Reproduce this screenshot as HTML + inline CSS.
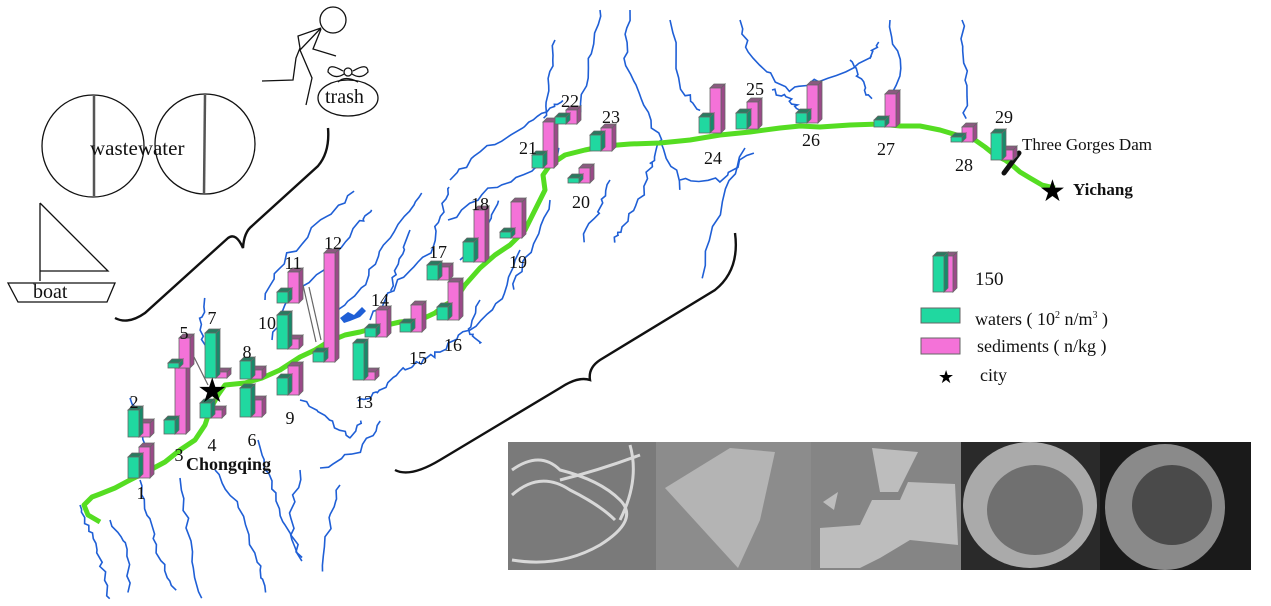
<!DOCTYPE html>
<html><head><meta charset="utf-8"><style>
html,body{margin:0;padding:0;background:#fff;}
svg{display:block;}
text{font-family:"Liberation Serif",serif;fill:#111;}
</style></head><body>
<svg id="s" width="1271" height="606" viewBox="0 0 1271 606" xmlns="http://www.w3.org/2000/svg">
<g id="blue" fill="none" stroke="#1f5fd6" stroke-width="1.6"></g>
<path d="M340,318 l8,-6 l6,3 l8,-8 l4,4 l-6,6 l-10,4 l-6,2 z" fill="#1f5fd6"/>
<!-- green river -->
<path d="M100,522 L88,515 L84,505 L92,497 L100,494 L115,488 L130,480 L150,470 L165,462 L180,450 L195,440 L205,425 L210,410 L218,395 L225,385 L245,383 L262,378 L280,370 L300,357 L315,350 L328,342 L345,335 L360,332 L378,327 L400,322 L420,320 L435,313 L445,305 L455,300 L465,285 L480,268 L495,255 L510,245 L525,230 L535,210 L545,190 L543,175 L550,165 L565,155 L585,150 L605,146 L630,144 L660,143 L690,140 L720,135 L750,132 L780,128 L800,126 L820,127 L850,125 L880,124 L900,126 L920,126 L940,130 L960,136 L975,140 L985,147 L995,155 L1005,160 L1012,165 L1020,172 L1030,178 L1042,185 L1055,188" fill="none" stroke="#55dd22" stroke-width="5" stroke-linejoin="round"/>
<!-- dam -->
<line x1="1004" y1="173" x2="1019" y2="153" stroke="#111" stroke-width="5" stroke-linecap="round"/>
<g id="bars"></g>
<!-- gray connectors -->
<line x1="194" y1="357" x2="208" y2="385" stroke="#666" stroke-width="1.2"/>
<line x1="303" y1="285" x2="316" y2="342" stroke="#666" stroke-width="1.2"/>
<line x1="309" y1="287" x2="321" y2="340" stroke="#666" stroke-width="1.2"/>
<!-- stars -->
<text x="197" y="402" font-size="34" style="fill:#000">★</text>
<text x="1039" y="201" font-size="30" style="fill:#000">★</text>
<text x="186" y="470" font-size="18" font-weight="bold">Chongqing</text>
<text x="1073" y="195" font-size="17" font-weight="bold">Yichang</text>
<text x="1022" y="150" font-size="17">Three Gorges Dam</text>
<g id="labels" font-size="18"></g>
<!-- left illustrations -->
<g fill="none" stroke="#111" stroke-width="1.3">
<circle cx="93" cy="146" r="51"/><circle cx="205" cy="144" r="50"/>
<path d="M40,203 L40,281 M40,203 L108,271 L40,271"/>
<path d="M8,283 L115,283 L107,302 L18,302 Z"/>
<circle cx="333" cy="20" r="13"/>
<path d="M321,28 L298,36 L300,48 L296,58 L293,80 L262,81 M321,28 L300,50 L312,78 L306,105 M321,29 L313,49 L336,56"/>
<ellipse cx="348" cy="98" rx="30" ry="18"/>
<path d="M343,71 Q328,62 328,72 Q335,80 344,74 M353,71 Q368,62 368,72 Q361,80 352,74 M338,82 Q345,75 358,82"/>
<circle cx="348" cy="72" r="4"/>
<path d="M115,318 Q128,325 145,313 L228,238 Q236,232 243,248 Q244,232 252,226 L318,166 Q330,152 328,128" stroke-width="2.4"/>
<path d="M395,470 Q410,478 440,460 L560,388 Q578,376 590,380 Q588,368 600,360 L715,290 Q740,270 735,233" stroke-width="2.4"/>
</g>
<line x1="94" y1="96" x2="94" y2="196" stroke="#555" stroke-width="2.5"/>
<line x1="205" y1="95" x2="204" y2="194" stroke="#555" stroke-width="2.5"/>
<text x="90" y="155" font-size="21">wastewater</text>
<text x="33" y="298" font-size="20">boat</text>
<text x="325" y="103" font-size="20">trash</text>
<!-- legend -->
<text x="975" y="285" font-size="19">150</text>
<rect x="921" y="308" width="39" height="15" fill="#20d8a0" stroke="#666"/>
<rect x="921" y="338" width="39" height="16" fill="#f472d8" stroke="#666"/>
<text x="975" y="325" font-size="18">waters ( 10<tspan font-size="10" dy="-7">2</tspan><tspan dy="7"> n/m</tspan><tspan font-size="10" dy="-7">3</tspan><tspan dy="7"> )</tspan></text>
<text x="977" y="352" font-size="18">sediments ( n/kg )</text>
<text x="938" y="383" font-size="18" style="fill:#000">★</text>
<text x="980" y="381" font-size="18">city</text>
<!-- SEM strip -->
<g>
<rect x="508" y="442" width="148" height="128" fill="#7a7a7a"/>
<path d="M512,470 Q540,450 560,470 Q600,480 620,500 Q640,520 600,545 Q560,568 512,560 M512,495 Q540,470 570,490 Q600,505 615,520 M560,480 Q600,470 640,455 M630,445 Q640,480 620,520" fill="none" stroke="#d8d8d8" stroke-width="3"/>
<rect x="656" y="442" width="155" height="128" fill="#8c8c8c"/>
<path d="M665,488 L730,448 L775,452 L760,520 L738,568 Z" fill="#b4b4b4"/>
<rect x="811" y="442" width="150" height="128" fill="#858585"/>
<path d="M872,448 L918,452 L898,492 L880,492 Z M820,528 L860,525 L872,500 L900,500 L908,482 L955,484 L958,545 L910,540 L880,558 L860,568 L820,568 Z M823,502 L838,492 L834,510 Z" fill="#bdbdbd"/>
<rect x="961" y="442" width="139" height="128" fill="#2a2a2a"/>
<ellipse cx="1030" cy="505" rx="67" ry="63" fill="#aaaaaa"/>
<ellipse cx="1035" cy="510" rx="48" ry="45" fill="#707070"/>
<rect x="1100" y="442" width="151" height="128" fill="#1a1a1a"/>
<ellipse cx="1165" cy="507" rx="60" ry="63" fill="#8a8a8a"/>
<ellipse cx="1172" cy="505" rx="40" ry="40" fill="#4a4a4a"/>
</g>
</svg>
<script>
var NS="http://www.w3.org/2000/svg";
function el(p,t,a){var e=document.createElementNS(NS,t);for(var k in a)e.setAttribute(k,a[k]);p.appendChild(e);return e;}
var B=document.getElementById("bars");
function box(x,yb,w,h,f,side,top){var d=4;
 el(B,"polygon",{points:(x+w)+","+yb+" "+(x+w+d)+","+(yb-d)+" "+(x+w+d)+","+(yb-h-d)+" "+(x+w)+","+(yb-h),fill:side,stroke:"#666","stroke-width":0.8});
 el(B,"polygon",{points:x+","+(yb-h)+" "+(x+d)+","+(yb-h-d)+" "+(x+w+d)+","+(yb-h-d)+" "+(x+w)+","+(yb-h),fill:top,stroke:"#666","stroke-width":0.8});
 el(B,"rect",{x:x,y:yb-h,width:w,height:h,fill:f,stroke:"#666","stroke-width":0.8});}
function bar(x,yb,g,p){box(x+11,yb,11,p,"#f472d8","#9a4a88","#8a5a80");box(x,yb,11,g,"#20d8a0","#178a6a","#2a7a60");}
var D=[[128,478,21,31],[128,437,27,14],[164,434,14,66],[168,368,5,30],[205,378,45,6],[200,418,15,8],[240,379,18,9],[240,417,29,17],[277,395,17,29],[277,349,34,10],[277,303,11,31],[313,362,10,109],[353,380,37,8],[365,337,9,27],[400,332,9,27],[437,320,13,38],[427,280,15,13],[463,262,20,52],[500,238,6,36],[532,168,13,46],[555,124,7,14],[590,151,16,23],[568,183,5,15],[699,133,16,45],[736,129,16,27],[796,123,10,38],[874,127,7,33],[951,142,5,15],[991,160,27,10]];
D.forEach(function(a){bar(a[0],a[1],a[2],a[3]);});
box(944,292,9,36,"#f472d8","#9a4a88","#8a5a80");box(933,292,11,36,"#20d8a0","#178a6a","#2a7a60");
var L=document.getElementById("labels");
[[1,141,499],[2,134,408],[3,179,461],[4,212,451],[5,184,339],[6,252,446],[7,212,324],[8,247,358],[9,290,424],[10,267,329],[11,293,269],[12,333,249],[13,364,408],[14,380,306],[15,418,364],[16,453,351],[17,438,258],[18,480,210],[19,518,268],[21,528,154],[22,570,107],[23,611,123],[20,581,208],[24,713,164],[25,755,95],[26,811,146],[27,886,155],[28,964,171],[29,1004,123]].forEach(function(a){var t=el(L,"text",{x:a[1],y:a[2],"text-anchor":"middle"});t.textContent=a[0];});
var G=document.getElementById("blue");var seed=7;function r(){seed=(seed*9301+49297)%233280;return seed/233280-0.5;}
var R=[[[80,505],[90,530],[100,560],[110,600]],[[140,480],[150,520],[160,560],[175,592]],[[110,520],[128,550],[130,590]],[[180,478],[190,540],[200,600]],[[215,470],[240,510],[258,560],[268,592]],[[258,440],[270,480],[282,520],[300,560]],[[340,485],[330,520],[322,572]],[[300,400],[330,420],[350,440],[362,420]],[[320,468],[360,450],[382,420]],[[210,360],[200,330],[205,300]],[[150,460],[140,420],[130,400]],
[[265,300],[282,262],[320,222],[356,192]],[[272,340],[290,300],[330,262],[360,222],[374,210]],[[330,320],[360,290],[380,250],[410,212],[420,195]],[[370,320],[400,282],[430,252],[440,215],[450,185]],[[450,180],[480,150],[520,130],[548,112],[565,100]],[[448,220],[490,190],[530,170],[560,150]],[[460,260],[480,240],[500,200]],
[[555,40],[550,80],[545,120]],[[600,10],[590,60],[580,110]],[[630,10],[625,60],[640,100],[660,140],[652,162]],[[652,162],[640,200],[620,232],[615,242]],[[660,140],[682,188]],[[670,20],[682,90],[700,112]],[[740,20],[752,60],[790,90],[820,80],[868,60],[880,40]],[[890,20],[900,70],[885,110]],[[962,20],[966,70],[965,120]],[[745,148],[722,200],[700,280]],[[680,180],[720,180],[752,152]],[[850,60],[860,80],[870,100]],[[772,90],[790,100],[800,112]],
[[520,250],[500,300],[470,330],[440,352],[420,362],[398,372],[378,392],[360,402]],[[550,200],[530,250],[512,290]],[[480,300],[470,330],[480,345]],[[610,180],[600,210],[582,240]],[[300,470],[290,520],[300,560]],[[410,230],[400,260],[390,290]]];
R.forEach(function(p){var d="M"+p[0][0]+","+p[0][1];for(var i=1;i<p.length;i++){var a=p[i-1],b=p[i];for(var k=1;k<=6;k++){var t=k/6;d+=" L"+(a[0]+(b[0]-a[0])*t+r()*5).toFixed(1)+","+(a[1]+(b[1]-a[1])*t+r()*5).toFixed(1);}}el(G,"path",{d:d});});
</script>
</body></html>
